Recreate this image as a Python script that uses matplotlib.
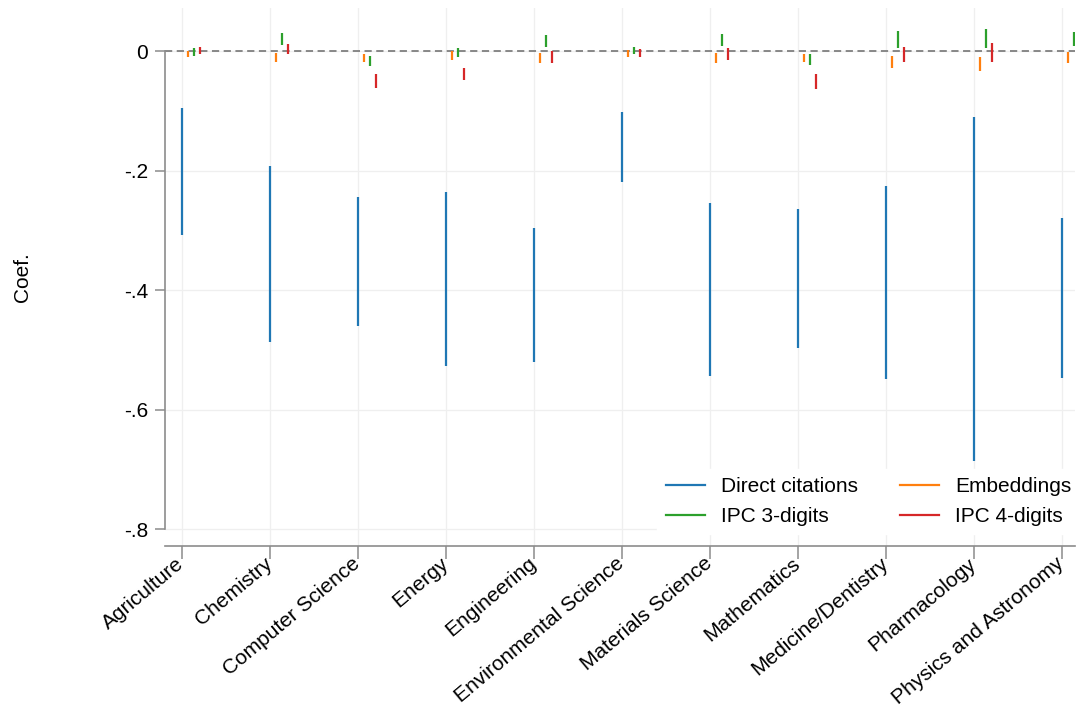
import matplotlib
matplotlib.use("Agg")
import matplotlib.pyplot as plt
import numpy as np

plt.rcParams['font.family'] = ['Liberation Sans', 'DejaVu Sans']

categories = ["Agriculture", "Chemistry", "Computer Science", "Energy", "Engineering",
              "Environmental Science", "Materials Science", "Mathematics",
              "Medicine/Dentistry", "Pharmacology", "Physics and Astronomy"]

# confidence interval bounds (lower, upper)
direct_lo = [-0.308, -0.487, -0.459, -0.526, -0.520, -0.218, -0.544, -0.497, -0.549, -0.686, -0.546]
direct_hi = [-0.095, -0.192, -0.244, -0.236, -0.295, -0.102, -0.254, -0.263, -0.226, -0.110, -0.278]

emb_lo = [-0.009, -0.018, -0.018, -0.014, -0.019, -0.009, -0.019, -0.017, -0.028, -0.033, -0.019]
emb_hi = [0.001, -0.002, -0.004, 0.000, -0.002, 0.002, -0.002, -0.004, -0.007, -0.009, -0.001]

ipc3_lo = [-0.007, 0.011, -0.025, -0.009, 0.008, -0.004, 0.010, -0.022, 0.006, 0.006, 0.009]
ipc3_hi = [0.006, 0.031, -0.007, 0.005, 0.028, 0.007, 0.030, -0.004, 0.034, 0.037, 0.032]

ipc4_lo = [-0.005, -0.005, -0.061, -0.047, -0.019, -0.010, -0.014, -0.062, -0.018, -0.018, -0.013]
ipc4_hi = [0.008, 0.013, -0.038, -0.027, 0.000, 0.004, 0.005, -0.038, 0.008, 0.014, 0.011]

yticks = [0, -0.2, -0.4, -0.6, -0.8]
ytick_labels = ["0", "-.2", "-.4", "-.6", "-.8"]

series = [
    ("Direct citations", direct_lo, direct_hi, "#1f77b4", 0.0),
    ("Embeddings", emb_lo, emb_hi, "#ff7f0e", 0.068),
    ("IPC 3-digits", ipc3_lo, ipc3_hi, "#2ca02c", 0.136),
    ("IPC 4-digits", ipc4_lo, ipc4_hi, "#d62728", 0.204),
]

FS = 15

fig = plt.figure(figsize=(10.83, 7.08), dpi=100)
ax = fig.add_axes([165/1083, 1-546/708, (1075-165)/1083, (546-8)/708])

x = np.arange(len(categories))
for name, lo, hi, col, off in series:
    ax.vlines(x + off, lo, hi, color=col, linewidth=1.6, zorder=3)

ax.axhline(0, color="#7f7f7f", linestyle=(0, (4, 2.5)), linewidth=1.3, zorder=2)

ax.set_xlim(-0.19, 10.15)
ax.set_ylim(-0.828, 0.0728)

ax.set_xticks(x)
ax.set_xticklabels(categories, rotation=40, ha="right", va="center",
                   rotation_mode="anchor", fontsize=FS)
ax.set_yticks(yticks)
ax.set_yticklabels(ytick_labels, fontsize=FS)
ax.set_ylabel("Coef.", fontsize=FS, labelpad=66)

ax.grid(True, color="#efefef", linewidth=0.9, zorder=0)
ax.set_axisbelow(True)

for s in ["top", "right"]:
    ax.spines[s].set_visible(False)
ax.spines["left"].set_bounds(-0.8, 0)
ax.spines["left"].set_color("#8c8c8c")
ax.spines["bottom"].set_color("#8c8c8c")
ax.spines["left"].set_linewidth(1.2)
ax.spines["bottom"].set_linewidth(1.2)
ax.tick_params(axis="both", colors="#8c8c8c", labelcolor="black", length=7, width=1.1)
ax.tick_params(axis="y", pad=5)
ax.tick_params(axis="x", length=9, pad=2)

order = [0, 2, 1, 3]
leg_handles = [plt.Line2D([], [], color=series[i][3], linewidth=1.6) for i in order]
leg_labels = [series[i][0] for i in order]
leg = ax.legend(leg_handles, leg_labels, ncol=2, loc="lower right",
                bbox_to_anchor=((1080-165)/910, 0.022), borderaxespad=0,
                frameon=True, fontsize=FS,
                handlelength=1.9, columnspacing=2.0, handletextpad=0.77,
                borderpad=0.4, labelspacing=0.5)
leg.get_frame().set_facecolor("white")
leg.get_frame().set_edgecolor("white")
leg.get_frame().set_alpha(1)
leg.get_frame().set_boxstyle("square", pad=0)

fig.savefig("out.png", dpi=100)
